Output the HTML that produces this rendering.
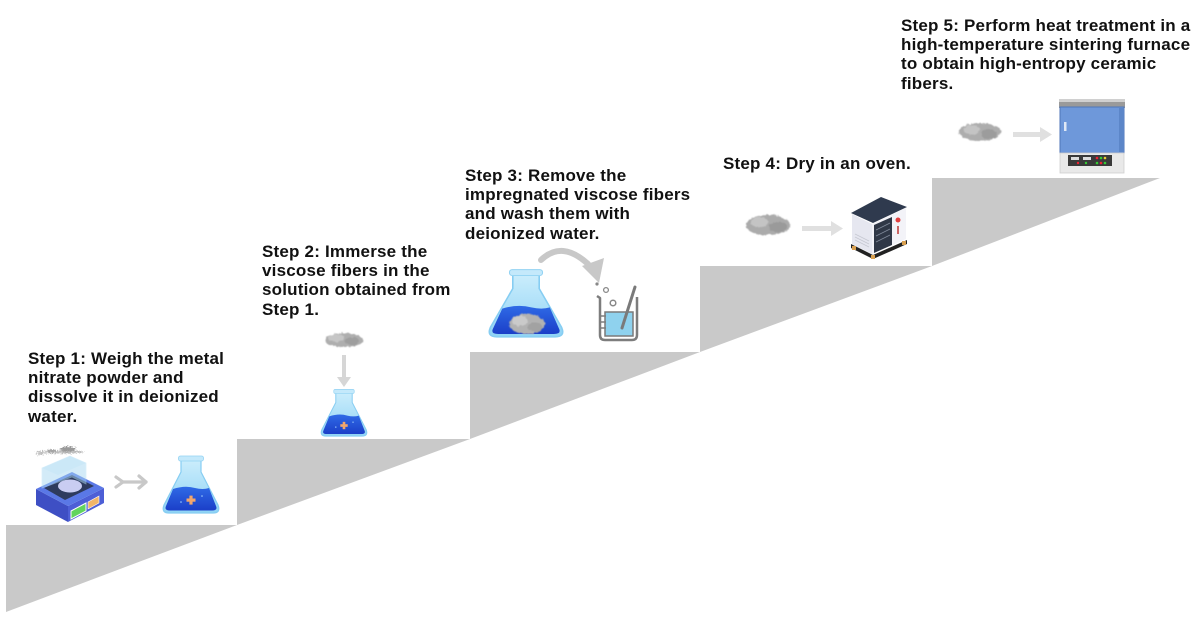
<!DOCTYPE html>
<html>
<head>
<meta charset="utf-8">
<style>
html,body{margin:0;padding:0;background:#fff;}
#wrap{position:relative;width:1197px;height:619px;overflow:hidden;background:#fff;}
svg{position:absolute;left:0;top:0;}
.t{position:absolute;font-family:"Liberation Sans",Arial,sans-serif;font-weight:bold;font-size:17px;line-height:19.2px;color:#111;white-space:nowrap;letter-spacing:0.2px;}
</style>
</head>
<body>
<div id="wrap">
<svg width="1197" height="619" viewBox="0 0 1197 619" xmlns="http://www.w3.org/2000/svg">
  <defs>
    <filter id="fz" x="-20%" y="-40%" width="140%" height="180%">
      <feTurbulence type="fractalNoise" baseFrequency="0.3" numOctaves="2" seed="3" result="n"/>
      <feDisplacementMap in="SourceGraphic" in2="n" scale="3.5" xChannelSelector="R" yChannelSelector="G" result="d"/>
      <feGaussianBlur in="d" stdDeviation="0.5"/>
    </filter>
    <filter id="pw" x="-20%" y="-80%" width="140%" height="260%">
      <feTurbulence type="fractalNoise" baseFrequency="0.8" numOctaves="2" seed="7" result="n"/>
      <feDisplacementMap in="SourceGraphic" in2="n" scale="6" xChannelSelector="R" yChannelSelector="G"/>
    </filter>
    <linearGradient id="liq" x1="0" y1="0" x2="0" y2="1">
      <stop offset="0" stop-color="#2f6ae6"/>
      <stop offset="1" stop-color="#1b3fc8"/>
    </linearGradient>
    <linearGradient id="glass" x1="0" y1="0" x2="0" y2="1">
      <stop offset="0" stop-color="#cdeefc"/>
      <stop offset="1" stop-color="#8fd3f5"/>
    </linearGradient>
    <g id="flaskBase">
      <path d="M-10,0 L10,0 L10,14 L27,47 Q30,55 22,55 L-22,55 Q-30,55 -27,47 L-10,14 Z" fill="url(#glass)" stroke="#86cdf2" stroke-width="1.2"/>
      <rect x="-12.5" y="-2" width="25" height="5" rx="2" fill="#c4e9fb" stroke="#93d3f3" stroke-width="0.8"/>
    </g>
    <g id="flaskPlus">
      <use href="#flaskBase"/>
      <path d="M-18,31 Q-6,27 4,30 Q12,32 18,30 L25,48 Q27,52.5 21,52.5 L-21,52.5 Q-27,52.5 -25,48 Z" fill="url(#liq)"/>
      <rect x="-4.5" y="40.5" width="9" height="3.2" fill="#f3a66c"/>
      <rect x="-1.6" y="37.6" width="3.2" height="9" fill="#f3a66c"/>
      <circle cx="-10" cy="44" r="0.8" fill="#9fd0ff"/>
      <circle cx="11" cy="38" r="0.8" fill="#9fd0ff"/>
    </g>
  </defs>

  <!-- staircase -->
  <path d="M6,525 L237,525 L6,612 Z M237,439 L470,439 L237,525 Z M470,352 L700,352 L470,439 Z M700,266 L932,266 L700,352 Z M932,178 L1160,178 L932,266 Z" fill="#c9c9c9"/>

  <!-- STEP 1: powder -->
  <g filter="url(#pw)" opacity="0.75">
    <ellipse cx="60" cy="452" rx="24" ry="1.6" fill="#aaa"/>
    <ellipse cx="68" cy="449" rx="8" ry="2.6" fill="#777"/>
    <ellipse cx="52" cy="451" rx="4" ry="1.6" fill="#888"/>
    <ellipse cx="40" cy="454" rx="4" ry="1" fill="#aaa"/>
  </g>
  <!-- balance -->
  <polygon points="36,489 68,506 68,522 36,505" fill="#3e4fc4"/>
  <polygon points="68,506 104,488 104,503 68,522" fill="#4d5fd6"/>
  <polygon points="36,489 72,472 104,488 68,506" fill="#5a78e6"/>
  <polygon points="44,488 72,475 94,486 65,500" fill="#2e3b5e"/>
  <ellipse cx="70" cy="486" rx="12" ry="6.5" fill="#c9cdf2"/>
  <polygon points="42,488 42,468 70,456 86,463 86,484 72,477" fill="#a9d8f3" opacity="0.5" stroke="#b9e2f7" stroke-width="0.8"/>
  <polygon points="42,468 70,456 86,463 58,475" fill="#c6e6f7" opacity="0.6"/>
  <polygon points="71,511 86,503 86,511 71,519" fill="#62d45e" stroke="#fff" stroke-width="1"/>
  <polygon points="88,502 99,496 99,503 88,509" fill="#f0b56a" stroke="#fff" stroke-width="0.6"/>
  <!-- arrow step1 -->
  <g stroke="#c8c8c8" stroke-width="3.2" fill="none" stroke-linecap="round" stroke-linejoin="round">
    <polyline points="116,477 123,482 116,487"/>
    <line x1="123" y1="482" x2="146" y2="482"/>
    <polyline points="139,476 146,482 139,488"/>
  </g>
  <!-- flask step1 -->
  <use href="#flaskPlus" transform="translate(191,458)"/>

  <!-- STEP 2 -->
  <g filter="url(#fz)">
    <ellipse cx="344" cy="340" rx="19" ry="7" fill="#aeaeae"/>
    <ellipse cx="336" cy="338" rx="8" ry="4" fill="#c6c6c6"/>
    <ellipse cx="352" cy="341" rx="7" ry="4" fill="#9e9e9e"/>
  </g>
  <rect x="342" y="355" width="4" height="23" fill="#d6d6d6"/>
  <polygon points="337,377 351,377 344,387" fill="#d6d6d6"/>
  <use href="#flaskPlus" transform="translate(344,391) scale(0.82)"/>

  <!-- STEP 3 flask with fiber -->
  <g transform="translate(526,272) scale(1.32,1.18)">
    <use href="#flaskBase"/>
    <path d="M-18,31 Q-6,27 4,30 Q12,32 18,30 L25,48 Q27,52.5 21,52.5 L-21,52.5 Q-27,52.5 -25,48 Z" fill="url(#liq)"/>
  </g>
  <g filter="url(#fz)">
    <ellipse cx="527" cy="324" rx="18" ry="10" fill="#b2b2b2"/>
    <ellipse cx="520" cy="321" rx="8" ry="5" fill="#cacaca"/>
    <ellipse cx="535" cy="327" rx="7" ry="5" fill="#a2a2a2"/>
  </g>
  <!-- curved arrow -->
  <path d="M541,260 Q562,240 588,264" fill="none" stroke="#c8c8c8" stroke-width="6" stroke-linecap="round"/>
  <polygon points="582,266 604,258 599,283" fill="#c8c8c8"/>
  <!-- beaker -->
  <circle cx="597" cy="284" r="1.6" fill="#888"/>
  <circle cx="606" cy="290" r="2.4" fill="none" stroke="#888" stroke-width="1.3"/>
  <rect x="605" y="312" width="28" height="24" fill="#8fd2ee" stroke="#7a7a7a" stroke-width="1.5"/>
  <path d="M597,296 L600,298 L600,335 Q600,340 605,340 L632,340 Q637,340 637,335 L637,297" fill="none" stroke="#7d7d7d" stroke-width="2.5" stroke-linejoin="round"/>
  <circle cx="613" cy="303" r="2.8" fill="none" stroke="#888" stroke-width="1.5"/>
  <g stroke="#7d7d7d" stroke-width="1.5">
    <line x1="600" y1="316" x2="606" y2="316"/>
    <line x1="600" y1="322" x2="606" y2="322"/>
    <line x1="600" y1="328" x2="606" y2="328"/>
  </g>
  <line x1="622" y1="328" x2="635" y2="287" stroke="#7a7a7a" stroke-width="3" stroke-linecap="round"/>

  <!-- STEP 4 -->
  <g filter="url(#fz)">
    <ellipse cx="768" cy="225" rx="22" ry="10" fill="#ababab"/>
    <ellipse cx="760" cy="222" rx="9" ry="5" fill="#c4c4c4"/>
    <ellipse cx="778" cy="227" rx="9" ry="5" fill="#9a9a9a"/>
  </g>
  <rect x="802" y="226" width="30" height="5" fill="#e0e0e0"/>
  <polygon points="831,221 843,228.5 831,236" fill="#e0e0e0"/>
  <!-- oven -->
  <polygon points="851,244 873,255 907,240 907,244 873,259 851,248" fill="#222"/>
  <rect x="852" y="246" width="4" height="4" fill="#d9a050"/>
  <rect x="871" y="255" width="4" height="4" fill="#d9a050"/>
  <rect x="902" y="241" width="4" height="4" fill="#d9a050"/>
  <polygon points="852,214 872,224 872,254 852,244" fill="#e6e7f0"/>
  <polygon points="872,224 906,208 906,239 872,254" fill="#f3f3f8"/>
  <polygon points="874,225 892,217 892,245 874,253" fill="#2f3746"/>
  <g stroke="#7f8899" stroke-width="0.8">
    <line x1="876" y1="230" x2="890" y2="223"/>
    <line x1="876" y1="236" x2="890" y2="229"/>
    <line x1="876" y1="242" x2="890" y2="235"/>
  </g>
  <circle cx="898" cy="220" r="2.5" fill="#e34040"/>
  <rect x="897" y="226" width="2" height="8" fill="#cc6666"/>
  <g stroke="#c6c8d2" stroke-width="0.8">
    <line x1="855" y1="234" x2="869" y2="241"/>
    <line x1="855" y1="237" x2="869" y2="244"/>
    <line x1="855" y1="240" x2="869" y2="247"/>
  </g>
  <polygon points="851,213 881,197 907,207 873,223" fill="#2f3a4e"/>

  <!-- STEP 5 -->
  <g filter="url(#fz)">
    <ellipse cx="980" cy="132" rx="21" ry="9" fill="#adadad"/>
    <ellipse cx="972" cy="130" rx="8" ry="5" fill="#c4c4c4"/>
    <ellipse cx="989" cy="134" rx="8" ry="5" fill="#9c9c9c"/>
  </g>
  <rect x="1013" y="132" width="28" height="5" fill="#e0e0e0"/>
  <polygon points="1040,127 1052,134.5 1040,142" fill="#e0e0e0"/>
  <!-- furnace -->
  <rect x="1059" y="99" width="66" height="9" fill="#9a9a9a"/>
  <rect x="1059" y="99" width="66" height="3" fill="#d0d0d0"/>
  <rect x="1060" y="107" width="64" height="46" fill="#6e98da" stroke="#4f76b8" stroke-width="1"/>
  <rect x="1119" y="108" width="5" height="44" fill="#5c86c8"/>
  <rect x="1064" y="122" width="2.5" height="9" fill="#dfe8f5"/>
  <rect x="1060" y="153" width="64" height="20" fill="#e9e9e9" stroke="#cfcfcf" stroke-width="0.8"/>
  <rect x="1068" y="155" width="44" height="11" fill="#3a3a3a"/>
  <rect x="1071" y="157" width="8" height="3" fill="#ddd"/>
  <rect x="1083" y="157" width="8" height="3" fill="#ddd"/>
  <circle cx="1097" cy="158" r="1.3" fill="#e23"/>
  <circle cx="1101" cy="158" r="1.3" fill="#3c3"/>
  <circle cx="1105" cy="158" r="1.3" fill="#ec3"/>
  <circle cx="1097" cy="163" r="1.3" fill="#3c3"/>
  <circle cx="1101" cy="163" r="1.3" fill="#e23"/>
  <circle cx="1105" cy="163" r="1.3" fill="#3c3"/>
  <circle cx="1078" cy="163" r="1.2" fill="#e23"/>
  <circle cx="1086" cy="163" r="1.2" fill="#3c3"/>
</svg>

<div class="t" style="left:28px;top:349px;">Step 1: Weigh the metal<br>nitrate powder and<br>dissolve it in deionized<br>water.</div>
<div class="t" style="left:262px;top:242px;">Step 2: Immerse the<br>viscose fibers in the<br>solution obtained from<br>Step 1.</div>
<div class="t" style="left:465px;top:166px;">Step 3: Remove the<br>impregnated viscose fibers<br>and wash them with<br>deionized water.</div>
<div class="t" style="left:723px;top:154px;">Step 4: Dry in an oven.</div>
<div class="t" style="left:901px;top:16px;">Step 5: Perform heat treatment in a<br>high-temperature sintering furnace<br>to obtain high-entropy ceramic<br>fibers.</div>
</div>
</body>
</html>
